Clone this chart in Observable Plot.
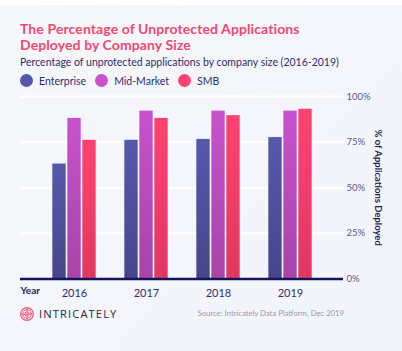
<!DOCTYPE html>
<html>
<head>
<meta charset="utf-8">
<script src="https://cdn.jsdelivr.net/npm/d3@7"></script>
<script src="https://cdn.jsdelivr.net/npm/@observablehq/plot@0.6"></script>
<style>
  html, body { margin: 0; padding: 0; background: #ffffff; }
  #wrap { position: relative; width: 402px; height: 351px; overflow: hidden; font-family: Lato, "Open Sans", sans-serif; }
  #panel { position: absolute; left: 0; top: 5px; width: 402px; height: 346px; background: linear-gradient(135deg, #f6f7fb 0%, #f3f4fa 100%); }
  #header { position: relative; height: 86px; }
  #title { position: absolute; left: 20px; top: 21px; font-weight: 700; font-size: 14px; line-height: 16px; color: #f2486f; letter-spacing: 0.1px; }
  #subtitle { position: absolute; left: 20px; top: 56px; font-size: 10.5px; color: #2d2d6e; }
  #legend { position: absolute; left: 20px; top: 74px; display: flex; align-items: center; font-size: 10.5px; color: #2d2d6e; }
  .item { display: flex; align-items: center; margin-right: 9px; }
  .dot { width: 13px; height: 13px; border-radius: 50%; margin-right: 6px; }
  #chart { position: relative; height: 217px; }
  #footer { position: relative; height: 48px; }
  #logo { position: absolute; left: 20px; top: 3px; display: flex; align-items: center; }
  #brand { margin-left: 5px; font-size: 11.2px; letter-spacing: 1.1px; color: #2a2a3c; font-family: "Open Sans", Lato, sans-serif; }
  #source { position: absolute; right: 58px; top: 5px; font-size: 7.7px; color: #9a9aab; }
</style>
</head>
<body>
<div id="wrap">
  <div id="panel"></div>
  <div id="header">
    <div id="title">The Percentage of Unprotected Applications<br>Deployed by Company Size</div>
    <div id="subtitle">Percentage of unprotected applications by company size (2016-2019)</div>
    <div id="legend"></div>
  </div>
  <div id="chart"></div>
  <div id="footer">
    <div id="logo">
      <svg width="14" height="14" viewBox="0 0 14 14">
        <circle cx="7" cy="7" r="6.3" fill="none" stroke="#f0577a" stroke-width="1.2"/>
        <circle cx="7" cy="7" r="4.2" fill="none" stroke="#f0577a" stroke-width="1.1"/>
        <circle cx="7" cy="7" r="2.1" fill="none" stroke="#f0577a" stroke-width="1"/>
        <line x1="1" y1="7" x2="13" y2="7" stroke="#f0577a" stroke-width="0.8"/>
        <line x1="7" y1="1" x2="7" y2="13" stroke="#f0577a" stroke-width="0.8"/>
      </svg>
      <span id="brand">INTRICATELY</span>
    </div>
    <div id="source">Source: Intricately Data Platform, Dec 2019</div>
  </div>
</div>
<script>
const years = ["2016", "2017", "2018", "2019"];
const series = ["Enterprise", "Mid-Market", "SMB"];
const enterprise = [63, 76, 76.5, 77.5];
const midMarket = [88, 92, 92, 92];
const smb = [76, 88, 89.5, 93];
const yTicks = [0, 25, 50, 75, 100];
const yLabel = "% of Applications Deployed";
const xLabel = "Year";

const seriesColors = {
  "Enterprise": ["#5659ab", "#45468a"],
  "Mid-Market": ["#c852cc", "#a844a8"],
  "SMB": ["#ff4270", "#e03862"]
};
const seriesValues = {"Enterprise": enterprise, "Mid-Market": midMarket, "SMB": smb};
const gradId = s => "grad-" + s.replace(/[^a-z]/gi, "");

// legend
const legend = document.getElementById("legend");
for (const s of series) {
  const it = document.createElement("div");
  it.className = "item";
  const d = document.createElement("div");
  d.className = "dot";
  d.style.background = seriesColors[s][0];
  it.appendChild(d);
  const t = document.createElement("span");
  t.textContent = s;
  it.appendChild(t);
  legend.appendChild(it);
}

const barWidth = 14;
const gap = 1;
const offsets = [-(barWidth + gap), 0, barWidth + gap];
const step = (327.3 - 36.7) / years.length;
const inset = (step - barWidth) / 2;

const barMarks = series.map((s, i) => Plot.barY(
  years.map((y, j) => ({year: y, value: seriesValues[s][j]})),
  {x: "year", y: "value", fill: `url(#${gradId(s)})`, insetLeft: inset, insetRight: inset, dx: offsets[i]}
));

const svg = Plot.plot({
  width: 402,
  height: 217,
  marginLeft: 20,
  marginRight: 59,
  marginTop: 10,
  marginBottom: 24.5,
  style: {background: "transparent", fontFamily: "Lato, 'Open Sans', sans-serif", overflow: "visible"},
  x: {domain: years, range: [36.7, 327.3], padding: 0, axis: null},
  y: {domain: [0, 100], axis: null},
  marks: [
    Plot.ruleY(yTicks.filter(d => d > 0), {stroke: "#ffffff", strokeWidth: 2.2}),
    ...barMarks,
    Plot.ruleY([0], {stroke: "#15145a", strokeWidth: 2.5}),
    Plot.axisX({anchor: "bottom", tickSize: 0, tickPadding: 10, fontSize: 11, color: "#2d2d6e", label: null}),
    Plot.axisY({anchor: "right", ticks: yTicks, tickSize: 0, tickPadding: 3, tickFormat: d => d + "%", fontSize: 9.5, color: "#5a5a8e", label: null}),
    Plot.text([xLabel], {frameAnchor: "bottom-left", dy: 15, dx: 0, textAnchor: "start", fontWeight: "bold", fontSize: 10, fill: "#1e1e55", text: d => d}),
    Plot.text([yLabel], {frameAnchor: "right", dx: 35, rotate: 90, textAnchor: "middle", fontWeight: "bold", fontSize: 9.5, fill: "#1e1e55", text: d => d})
  ]
});

const defs = d3.select(svg).insert("defs", ":first-child");
for (const s of series) {
  const g = defs.append("linearGradient").attr("id", gradId(s))
    .attr("x1", 0).attr("y1", 0).attr("x2", 0).attr("y2", 1);
  g.append("stop").attr("offset", "0%").attr("stop-color", seriesColors[s][0]);
  g.append("stop").attr("offset", "100%").attr("stop-color", seriesColors[s][1]);
}
document.getElementById("chart").appendChild(svg);
</script>
</body>
</html>
